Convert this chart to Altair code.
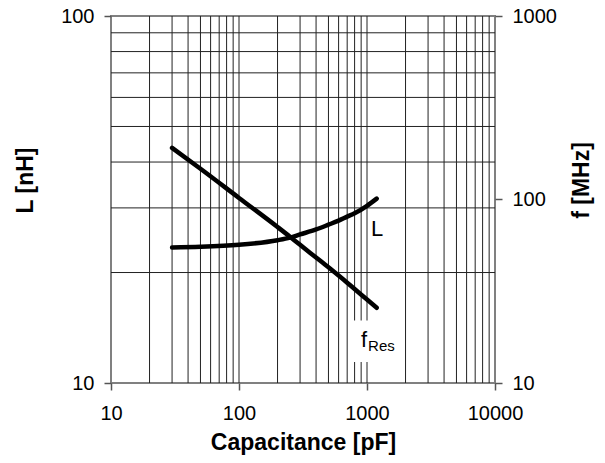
import altair as alt
import pandas as pd

# Data
cap = [30, 50, 100, 200, 250, 300, 400, 500, 600, 700, 800, 1000, 1190]   # Capacitance [pF]
ind = [23.4, 23.5, 23.8, 24.5, 24.9, 25.4, 26.2, 27.0, 27.7, 28.4, 29.0, 30.4, 31.8]  # L [nH]
fres = [191, 147, 102, 70.8, 62.7, 56.6, 48.3, 42.7, 38.5, 35.2, 32.5, 28.5, 25.7]    # f_Res [MHz]

x_grid = [20, 30, 40, 50, 60, 70, 80, 90, 100, 200, 300, 400, 500, 600, 700, 800, 900,
          1000, 2000, 3000, 4000, 5000, 6000, 7000, 8000, 9000]
y_grid = [20, 30, 40, 50, 60, 70, 80, 90]
x_ticks = [10, 100, 1000, 10000]
yl_ticks = [10, 100]
yr_ticks = [10, 100, 1000]

# annotation positions (in data units)
lab_L = {"C": [1200], "L": [26.3], "t": ["L"]}
lab_f = {"C": [950], "L": [12.5], "t": ["f"]}
lab_res = {"C": [1020], "L": [12.2], "t": ["Res"]}
lab_box = {"C": [760], "C2": [1800], "L": [11.4], "L2": [14.8]}

FONT = "Liberation Sans"
df = pd.DataFrame({"C": cap, "L": ind, "f": fres})


def xenc(field="C"):
    return alt.X(f"{field}:Q", scale=alt.Scale(type="log", domain=[10, 10000], nice=False),
                 axis=alt.Axis(values=x_ticks, format="d", grid=False, labelFlush=False,
                               tickSize=7, labelPadding=13, title="Capacitance [pF]",
                               titleY=66, titleBaseline="alphabetic"))


def yls():
    return alt.Scale(type="log", domain=[10, 100], nice=False)


yrs = alt.Scale(type="log", domain=[10, 1000], nice=False)

vgrid = alt.Chart(pd.DataFrame({"C": x_grid})).mark_rule(color="#222", strokeWidth=1).encode(
    x=xenc())
hgrid = alt.Chart(pd.DataFrame({"L": y_grid})).mark_rule(color="#222", strokeWidth=1).encode(
    y=alt.Y("L:Q", scale=yls(), axis=None))
box = alt.Chart(pd.DataFrame(lab_box)).mark_rect(color="white").encode(
    x=xenc(), x2="C2:Q",
    y=alt.Y("L:Q", scale=yls(), axis=None), y2="L2:Q")

lline = alt.Chart(df).mark_line(color="black", strokeWidth=4.5, strokeCap="round",
                                interpolate="monotone").encode(
    x=xenc(),
    y=alt.Y("L:Q", scale=yls(), axis=alt.Axis(
        orient="left", values=yl_ticks, format="d", grid=False, tickSize=7, labelPadding=10,
        title="L [nH]", titleX=-74, titleY=164, titleAngle=270, titleBaseline="bottom")))

tL = alt.Chart(pd.DataFrame(lab_L)).mark_text(font=FONT, fontSize=22, baseline="middle").encode(
    x=xenc(), y=alt.Y("L:Q", scale=yls(), axis=None), text="t:N")
tf = alt.Chart(pd.DataFrame(lab_f)).mark_text(font=FONT, fontSize=22, baseline="alphabetic").encode(
    x=xenc(), y=alt.Y("L:Q", scale=yls(), axis=None), text="t:N")
tres = alt.Chart(pd.DataFrame(lab_res)).mark_text(font=FONT, fontSize=15, align="left",
                                                  baseline="alphabetic").encode(
    x=xenc(), y=alt.Y("L:Q", scale=yls(), axis=None), text="t:N")

fline = alt.Chart(df).mark_line(color="black", strokeWidth=4.5, strokeCap="round",
                                interpolate="monotone").encode(
    x=xenc(),
    y=alt.Y("f:Q", scale=yrs, axis=alt.Axis(
        orient="right", values=yr_ticks, format="d", grid=False, tickSize=7, labelPadding=10,
        title="f [MHz]", titleX=98, titleY=164, titleAngle=270, titleBaseline="bottom")))

chart = alt.layer(vgrid, hgrid, box, lline, tL, tf, tres, fline).resolve_scale(
    y="independent").properties(
    width=384, height=367,
    autosize=alt.AutoSizeParams(type="none"),
    padding={"left": 103, "top": 8, "right": 102, "bottom": 72},
).configure_view(stroke="#808080", strokeWidth=2).configure_axis(
    labelFont=FONT, labelFontSize=20, labelColor="black",
    titleFont=FONT, titleFontSize=23, titleFontWeight="bold", titleColor="black",
    domain=False, tickColor="#555", tickWidth=1.5,
)

chart.save("out.html", embed_options={"renderer": "svg", "actions": False})
